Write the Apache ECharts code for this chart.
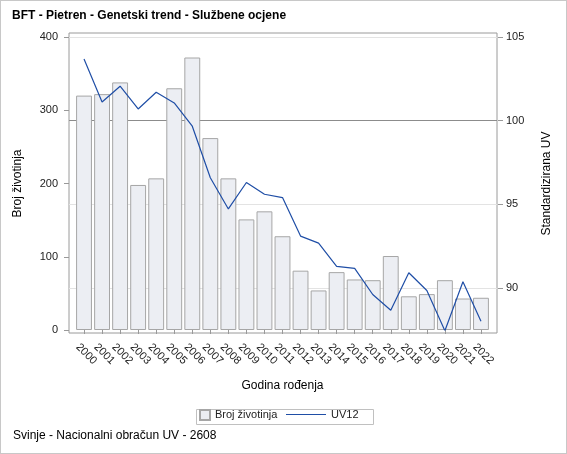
<!DOCTYPE html>
<html>
<head>
<meta charset="utf-8">
<script src="https://cdn.jsdelivr.net/npm/echarts@6/dist/echarts.min.js"></script>
<style>
html,body{margin:0;padding:0;background:#fff;}
#wrap{width:567px;height:454px;box-sizing:border-box;border:1px solid #c8c8c8;position:relative;}
#chart{position:absolute;left:-1px;top:-1px;width:567px;height:454px;}
</style>
</head>
<body>
<div id="wrap"><div id="chart"></div></div>
<script>
const years = ['2000','2001','2002','2003','2004','2005','2006','2007','2008','2009','2010','2011','2012','2013','2014','2015','2016','2017','2018','2019','2020','2021','2022'];
const brojZivotinja = [320, 322, 338, 198, 207, 330, 372, 262, 207, 151, 162, 128, 81, 54, 79, 69, 68, 101, 46, 49, 68, 43, 44];
const uv12 = [103.68, 101.12, 102.06, 100.70, 101.70, 101.06, 99.67, 96.59, 94.73, 96.31, 95.61, 95.41, 93.11, 92.69, 91.30, 91.18, 89.62, 88.68, 90.92, 89.86, 87.46, 90.38, 88.02];
const leftTicks = [0, 100, 200, 300, 400];
const rightTicks = [90, 95, 100, 105];

const FONT = 'Liberation Sans, Arial, sans-serif';
const chart = echarts.init(document.getElementById('chart'), null, {renderer: 'canvas'});

chart.setOption({
  animation: false,
  backgroundColor: 'transparent',
  textStyle: {fontFamily: FONT},
  title: [
    {text: 'BFT - Pietren - Genetski trend - Službene ocjene', left: 12, top: 10, padding: 0,
     textStyle: {fontFamily: FONT, fontSize: 12, fontWeight: 'bold', color: '#000'}},
    {text: 'Svinje - Nacionalni obračun UV - 2608', left: 13, top: 430, padding: 0,
     textStyle: {fontFamily: FONT, fontSize: 12, fontWeight: 'normal', color: '#000'}}
  ],
  grid: [
    {left: 69, right: 70, top: 33, bottom: 121, show: true, borderColor: '#9a9a9a', borderWidth: 1, backgroundColor: 'transparent'},
    {left: 69, right: 70, top: 37, bottom: 124, show: false},
    {left: 75, right: 77, top: 37, bottom: 124, show: false}
  ],
  xAxis: [
    {gridIndex: 0, type: 'value', show: false, min: 0, max: 1},
    {gridIndex: 1, type: 'value', show: false, min: 0, max: 1},
    {gridIndex: 2, type: 'category', data: years, offset: 3,
     axisLine: {show: false},
     axisTick: {show: true, alignWithLabel: true, length: 4, lineStyle: {color: '#999'}},
     axisLabel: {rotate: -45, margin: 6, fontSize: 11, color: '#222', fontFamily: FONT, interval: 0,
                 align: 'left', verticalAlign: 'top', lineHeight: 18},
     name: 'Godina rođenja', nameLocation: 'middle', nameGap: 47,
     nameTextStyle: {fontSize: 12, color: '#000', fontFamily: FONT}}
  ],
  yAxis: [
    {gridIndex: 0, type: 'value', show: false, min: 0, max: 1},
    {gridIndex: 1, type: 'value', min: 87.5, max: 105, interval: 2.5,
     axisLine: {show: false}, axisTick: {show: false}, axisLabel: {show: false},
     splitLine: {show: true, lineStyle: {width: 1, color: ['rgba(0,0,0,0)', '#e3e3e3', 'rgba(0,0,0,0)', '#e3e3e3', 'rgba(0,0,0,0)', '#8c8c8c', 'rgba(0,0,0,0)', '#e3e3e3']}}},
    {gridIndex: 2, type: 'value', position: 'left', min: 0, max: 400, interval: 100, offset: 6,
     axisLine: {show: false},
     axisTick: {show: true, length: 5, lineStyle: {color: '#999'}, customValues: leftTicks},
     axisLabel: {margin: 11, fontSize: 11, color: '#222', fontFamily: FONT, customValues: leftTicks},
     splitLine: {show: false},
     name: 'Broj životinja', nameLocation: 'middle', nameGap: 45, nameRotate: 90,
     nameTextStyle: {fontSize: 12, color: '#000', fontFamily: FONT}},
    {gridIndex: 2, type: 'value', position: 'right', min: 87.5, max: 105, offset: 8,
     axisLine: {show: false},
     axisTick: {show: true, length: 5, lineStyle: {color: '#999'}, customValues: rightTicks},
     axisLabel: {margin: 8, fontSize: 11, color: '#222', fontFamily: FONT, customValues: rightTicks},
     splitLine: {show: false},
     name: 'Standardizirana UV', nameLocation: 'middle', nameGap: 43, nameRotate: 90,
     nameTextStyle: {fontSize: 12, color: '#000', fontFamily: FONT}}
  ],
  legend: [
    {left: 199, top: 409, padding: 0, itemWidth: 10, itemHeight: 10,
     data: [{name: 'Broj životinja', icon: 'rect'}],
     textStyle: {fontSize: 11, color: '#222', fontFamily: FONT}},
    {left: 286, top: 409, padding: 0, itemWidth: 40, itemHeight: 10,
     data: [{name: 'UV12', icon: 'path://M0,0 L40,0 L40,1 L0,1 Z'}],
     textStyle: {fontSize: 11, color: '#222', fontFamily: FONT}}
  ],
  graphic: [
    {type: 'rect', left: 194, top: 407, shape: {width: 177, height: 15},
     style: {fill: 'none', stroke: '#c0c0c0', lineWidth: 1}, silent: true}
  ],
  series: [
    {name: 'Broj životinja', type: 'bar', xAxisIndex: 2, yAxisIndex: 2, data: brojZivotinja,
     barCategoryGap: '12%',
     itemStyle: {color: '#eceef3', borderColor: '#a6a6a6', borderWidth: 1}},
    {name: 'UV12', type: 'line', xAxisIndex: 2, yAxisIndex: 3, data: uv12,
     symbol: 'none', showSymbol: false,
     lineStyle: {color: '#1f4ea6', width: 1.2}, itemStyle: {color: '#1f4ea6'}}
  ]
});
</script>
</body>
</html>
